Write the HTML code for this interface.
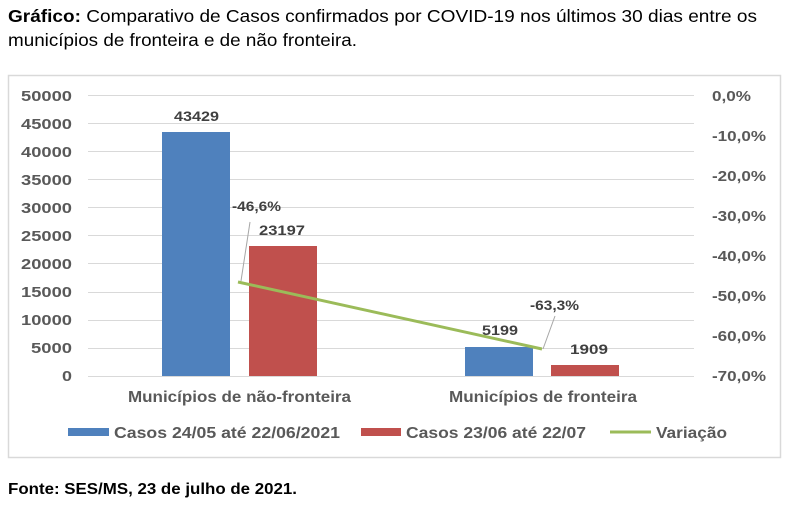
<!DOCTYPE html>
<html><head><meta charset="utf-8"><style>
body{margin:0;width:789px;height:507px;background:#fff;overflow:hidden;font-family:"Liberation Sans",sans-serif}
</style></head><body>
<svg width="789" height="507" xmlns="http://www.w3.org/2000/svg" font-family="Liberation Sans, sans-serif">
<text x="8" y="22" font-size="17.5" fill="#000" textLength="749" lengthAdjust="spacingAndGlyphs"><tspan font-weight="bold">Gráfico:</tspan> Comparativo de Casos confirmados por COVID-19 nos últimos 30 dias entre os</text>
<text x="8" y="46" font-size="17.5" fill="#000" textLength="349" lengthAdjust="spacingAndGlyphs">municípios de fronteira e de não fronteira.</text>
<rect x="8.5" y="75.5" width="772" height="382" fill="#fff" stroke="#d9d9d9" stroke-width="1.5"/>
<g stroke="#d9d9d9" stroke-width="1">
<line x1="88" x2="694" y1="95.5" y2="95.5"/><line x1="88" x2="694" y1="123.5" y2="123.5"/>
<line x1="88" x2="694" y1="151.5" y2="151.5"/><line x1="88" x2="694" y1="179.5" y2="179.5"/>
<line x1="88" x2="694" y1="207.5" y2="207.5"/><line x1="88" x2="694" y1="235.5" y2="235.5"/>
<line x1="88" x2="694" y1="263.5" y2="263.5"/><line x1="88" x2="694" y1="292.5" y2="292.5"/>
<line x1="88" x2="694" y1="320.5" y2="320.5"/><line x1="88" x2="694" y1="348.5" y2="348.5"/>
<line x1="88" x2="694" y1="376.5" y2="376.5"/>
</g>
<g font-size="14.5" font-weight="bold" fill="#595959">
<text x="21" y="101" textLength="51" lengthAdjust="spacingAndGlyphs">50000</text>
<text x="21" y="129" textLength="51" lengthAdjust="spacingAndGlyphs">45000</text>
<text x="21" y="157" textLength="51" lengthAdjust="spacingAndGlyphs">40000</text>
<text x="21" y="185" textLength="51" lengthAdjust="spacingAndGlyphs">35000</text>
<text x="21" y="213" textLength="51" lengthAdjust="spacingAndGlyphs">30000</text>
<text x="21" y="241" textLength="51" lengthAdjust="spacingAndGlyphs">25000</text>
<text x="21" y="269" textLength="51" lengthAdjust="spacingAndGlyphs">20000</text>
<text x="21" y="297" textLength="51" lengthAdjust="spacingAndGlyphs">15000</text>
<text x="21" y="325" textLength="51" lengthAdjust="spacingAndGlyphs">10000</text>
<text x="31" y="353" textLength="41" lengthAdjust="spacingAndGlyphs">5000</text>
<text x="62" y="381" textLength="10" lengthAdjust="spacingAndGlyphs">0</text>
</g>
<g font-size="14.5" font-weight="bold" fill="#595959">
<text x="712" y="101" textLength="39" lengthAdjust="spacingAndGlyphs">0,0%</text>
<text x="712" y="141" textLength="54" lengthAdjust="spacingAndGlyphs">-10,0%</text>
<text x="712" y="181" textLength="54" lengthAdjust="spacingAndGlyphs">-20,0%</text>
<text x="712" y="221" textLength="54" lengthAdjust="spacingAndGlyphs">-30,0%</text>
<text x="712" y="261" textLength="54" lengthAdjust="spacingAndGlyphs">-40,0%</text>
<text x="712" y="301" textLength="54" lengthAdjust="spacingAndGlyphs">-50,0%</text>
<text x="712" y="341" textLength="54" lengthAdjust="spacingAndGlyphs">-60,0%</text>
<text x="712" y="381" textLength="54" lengthAdjust="spacingAndGlyphs">-70,0%</text>
</g>
<rect x="162" y="132" width="68" height="244" fill="#4f81bd"/>
<rect x="249" y="246" width="68" height="130" fill="#c0504d"/>
<rect x="465" y="347" width="68" height="29" fill="#4f81bd"/>
<rect x="551" y="365" width="68" height="11" fill="#c0504d"/>
<line x1="241" y1="281" x2="250" y2="222" stroke="#a6a6a6" stroke-width="1"/>
<line x1="543" y1="349" x2="555" y2="316" stroke="#a6a6a6" stroke-width="1"/>
<line x1="238" y1="282" x2="542" y2="349" stroke="#9bbb59" stroke-width="3"/>
<g font-size="14" font-weight="bold" fill="#404040">
<text x="174" y="121" textLength="45" lengthAdjust="spacingAndGlyphs">43429</text>
<text x="259" y="235" textLength="46" lengthAdjust="spacingAndGlyphs">23197</text>
<text x="232" y="211" textLength="49" lengthAdjust="spacingAndGlyphs">-46,6%</text>
<text x="530" y="310" textLength="49" lengthAdjust="spacingAndGlyphs">-63,3%</text>
<text x="482" y="335" textLength="36" lengthAdjust="spacingAndGlyphs">5199</text>
<text x="570" y="354" textLength="38" lengthAdjust="spacingAndGlyphs">1909</text>
</g>
<g font-size="15.5" font-weight="bold" fill="#595959">
<text x="128" y="402" textLength="223" lengthAdjust="spacingAndGlyphs">Municípios de não-fronteira</text>
<text x="449" y="402" textLength="188" lengthAdjust="spacingAndGlyphs">Municípios de fronteira</text>
</g>
<rect x="68" y="428" width="41" height="8" fill="#4f81bd"/>
<rect x="361" y="428" width="40" height="8" fill="#c0504d"/>
<line x1="610" y1="432" x2="651" y2="432" stroke="#9bbb59" stroke-width="3"/>
<g font-size="15.5" font-weight="bold" fill="#595959">
<text x="114" y="438" textLength="226" lengthAdjust="spacingAndGlyphs">Casos 24/05 até 22/06/2021</text>
<text x="406" y="438" textLength="180" lengthAdjust="spacingAndGlyphs">Casos 23/06 até 22/07</text>
<text x="656" y="438" textLength="71" lengthAdjust="spacingAndGlyphs">Variação</text>
</g>
<text x="8" y="494" font-size="16" font-weight="bold" fill="#000" textLength="289" lengthAdjust="spacingAndGlyphs">Fonte: SES/MS, 23 de julho de 2021.</text>
</svg>
</body></html>
